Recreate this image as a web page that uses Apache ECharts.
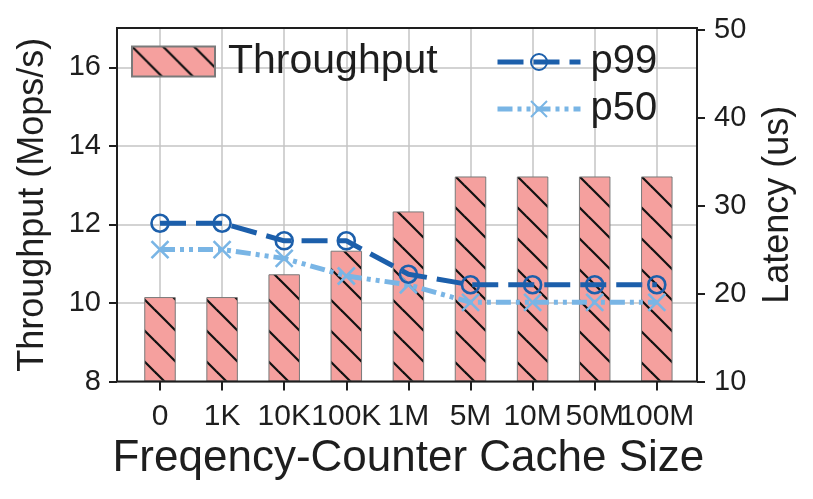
<!DOCTYPE html>
<html>
<head>
<meta charset="utf-8">
<script src="https://cdn.jsdelivr.net/npm/echarts@6/dist/echarts.min.js"></script>
<style>
  html, body { margin: 0; padding: 0; background: #fff; }
  #main { width: 813px; height: 499px; }
</style>
</head>
<body>
<div id="main"></div>
<script>
// values
const categories = ['0', '1K', '10K', '100K', '1M', '5M', '10M', '50M', '100M'];
const throughput = [10.15, 10.15, 10.73, 11.33, 12.33, 13.22, 13.22, 13.22, 13.22];
const p99 = [28, 28, 26, 26, 22.2, 21, 21, 21, 21];
const p50 = [25, 25, 24, 22, 21, 19, 19, 19, 19];
const leftTicks = [8, 10, 12, 14, 16];
const rightTicks = [10, 20, 30, 40, 50];

const font = 'Liberation Sans';
const ink = '#1e1e1e';

// pink fill with "\\" hatch
function hatch () {
    const s = 31;
    const c = document.createElement('canvas');
    c.width = s;
    c.height = s;
    const ctx = c.getContext('2d');
    ctx.fillStyle = '#f5a09e';
    ctx.fillRect(0, 0, s, s);
    ctx.strokeStyle = '#111';
    ctx.lineWidth = 2.2;
    for (let k = -1; k <= 1; k++) {
        ctx.beginPath();
        ctx.moveTo(-2, -2 + k * s);
        ctx.lineTo(s + 2, s + 2 + k * s);
        ctx.stroke();
    }
    return c;
}

const myChart = echarts.init(document.getElementById('main'));
const option = {
    animation: false,
    textStyle: { fontFamily: font, color: ink },
    legend: [
        {
            data: [{ name: 'Throughput', icon: 'rect' }],
            left: 131, top: 41, padding: 0,
            itemWidth: 83, itemHeight: 30,
            textStyle: { fontSize: 41, color: ink, fontFamily: font, padding: [0, 0, 0, 8] }
        },
        {
            data: ['p99', 'p50'],
            orient: 'vertical',
            left: 495, top: 42, padding: 0,
            itemWidth: 83, itemHeight: 20, itemGap: 7,
            lineStyle: { width: 5 },
            textStyle: { fontSize: 40, color: ink, fontFamily: font, padding: [0, 0, 0, 5] }
        }
    ],
    grid: [
        // data area: first/last category sit at the outer gridlines
        { left: 160, right: 156.2, top: 28, bottom: 117.5 },
        // frame
        { left: 117, right: 116, top: 28, bottom: 117.5, show: true, borderColor: ink, borderWidth: 2, z: 10 }
    ],
    xAxis: [
        {
            gridIndex: 0,
            type: 'category',
            data: categories,
            boundaryGap: false,
            axisLine: { show: false },
            axisTick: { show: true, length: 9, lineStyle: { color: ink, width: 2 } },
            axisLabel: { interval: 0, fontSize: 30, color: ink, margin: 20 },
            splitLine: { show: true, lineStyle: { color: '#c4c4c4', width: 1.5 } },
            name: 'Freqency-Counter Cache Size',
            nameLocation: 'middle',
            nameGap: 51,
            nameTextStyle: { fontSize: 44, color: ink }
        },
        { gridIndex: 1, type: 'value', min: 0, max: 1, show: false }
    ],
    yAxis: [
        { gridIndex: 0, type: 'value', min: 8, max: 17, startValue: 8, show: false },
        { gridIndex: 0, type: 'value', min: 10, max: 50.2, show: false },
        {
            gridIndex: 1,
            type: 'value',
            position: 'left',
            min: 8, max: 17, interval: 2,
            axisLine: { show: false },
            axisTick: { show: true, length: 8, customValues: leftTicks, lineStyle: { color: ink, width: 2 } },
            axisLabel: { fontSize: 29, color: ink, margin: 16, customValues: leftTicks },
            splitLine: { show: true, lineStyle: { color: '#c4c4c4', width: 1.5 } },
            name: 'Throughput (Mops/s)',
            nameLocation: 'middle',
            nameGap: 66,
            nameTextStyle: { fontSize: 36, color: ink }
        },
        {
            gridIndex: 1,
            type: 'value',
            position: 'right',
            min: 10, max: 50.2, interval: 10,
            axisLine: { show: false },
            axisTick: { show: true, length: 8, customValues: rightTicks, lineStyle: { color: ink, width: 2 } },
            axisLabel: { fontSize: 29, color: ink, margin: 17, customValues: rightTicks },
            splitLine: { show: false },
            name: 'Latency (us)',
            nameLocation: 'middle',
            nameGap: 63,
            nameTextStyle: { fontSize: 36, color: ink }
        }
    ],
    series: [
        {
            name: 'Throughput',
            type: 'bar',
            xAxisIndex: 0,
            yAxisIndex: 0,
            data: throughput,
            barWidth: 31.5,
            clip: false,
            itemStyle: { color: { image: hatch(), repeat: 'repeat' }, borderColor: '#7a7a7a', borderWidth: 1 }
        },
        {
            name: 'p99',
            type: 'line',
            xAxisIndex: 0,
            yAxisIndex: 1,
            data: p99,
            symbol: 'circle',
            symbolSize: 17,
            z: 4,
            lineStyle: { color: '#1c5fab', width: 5, type: [26, 10] },
            itemStyle: { color: 'rgba(0,0,0,0)', borderColor: '#1c5fab', borderWidth: 2.6 }
        },
        {
            name: 'p50',
            type: 'line',
            xAxisIndex: 0,
            yAxisIndex: 1,
            data: p50,
            symbol: 'path://M0,0L10,10M10,0L0,10',
            symbolSize: 17,
            z: 3,
            lineStyle: { color: '#79b5e5', width: 5, type: [15, 5, 4, 5, 4, 5] },
            itemStyle: { color: '#79b5e5', borderColor: '#79b5e5', borderWidth: 2.6 }
        }
    ]
};
myChart.setOption(option);
</script>
</body>
</html>
